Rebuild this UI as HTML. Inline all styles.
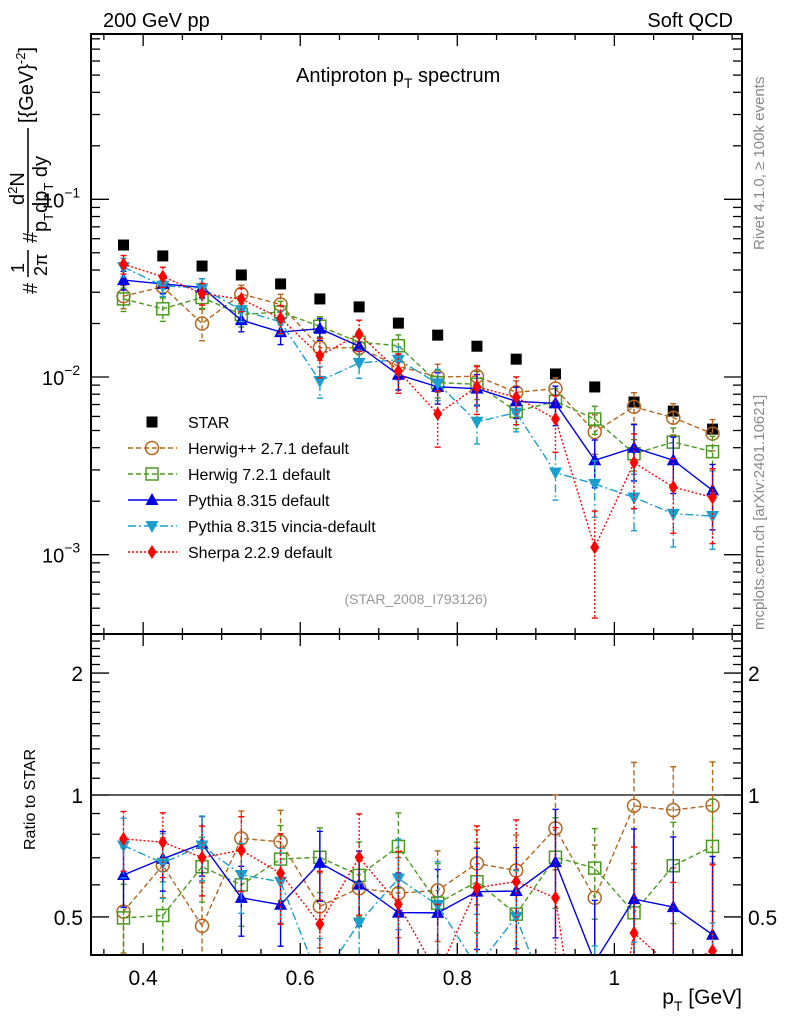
<!DOCTYPE html>
<html><head><meta charset="utf-8">
<style>
html,body{margin:0;padding:0;background:#fff;overflow:hidden;}
svg{display:block;font-family:"Liberation Sans",Arial,sans-serif;}
</style></head>
<body>
<svg id="chart" width="786" height="1024" viewBox="0 0 786 1024" xmlns="http://www.w3.org/2000/svg">
<defs>
<clipPath id="clipMain"><rect x="91" y="34" width="651" height="600"/></clipPath>
<clipPath id="clipRatio"><rect x="91" y="634" width="651" height="321"/></clipPath>
</defs>
<g id="axes"></g>
<g id="series"></g>
<rect x="91" y="34" width="651" height="600" fill="none" stroke="#000" stroke-width="2"/>
<rect x="91" y="634" width="651" height="321" fill="none" stroke="#000" stroke-width="2"/>
<text x="103" y="27" font-size="20">200 GeV pp</text>
<text x="733" y="27" font-size="20" text-anchor="end">Soft QCD</text>
<text x="296" y="82" font-size="20">Antiproton p<tspan font-size="14" dy="6">T</tspan><tspan dy="-6"> spectrum</tspan></text>
<text x="416" y="604" font-size="14" fill="#999" text-anchor="middle">(STAR_2008_I793126)</text>
<text transform="translate(764,250) rotate(-90)" font-size="15" fill="#888">Rivet 4.1.0, ≥ 100k events</text>
<text transform="translate(764,630) rotate(-90)" font-size="15" fill="#888">mcplots.cern.ch [arXiv:2401.10621]</text>
<g font-size="20">
  <text transform="translate(37,294) rotate(-90)">#</text>
  <text transform="translate(24,273) rotate(-90)" font-size="18">1</text>
  <line x1="28" y1="250" x2="28" y2="277" stroke="#000" stroke-width="1.5"/>
  <text transform="translate(47,276) rotate(-90)" font-size="18">2π</text>
  <text transform="translate(37,243) rotate(-90)">#</text>
  <text transform="translate(24,205) rotate(-90)">d<tspan font-size="13" dy="-7">2</tspan><tspan dy="7">N</tspan></text>
  <line x1="28" y1="128" x2="28" y2="233" stroke="#000" stroke-width="1.5"/>
  <text transform="translate(47,232) rotate(-90)">p<tspan font-size="13" dy="6">T</tspan><tspan dy="-6">dp</tspan><tspan font-size="13" dy="6">T</tspan><tspan dy="-6"> dy</tspan></text>
  <text transform="translate(33,123) rotate(-90)">[{GeV}<tspan font-size="13" dy="-8">-2</tspan><tspan dy="8">]</tspan></text>
</g>
<text transform="translate(35,850) rotate(-90)" font-size="16">Ratio to STAR</text>
<text x="742" y="1004" font-size="21" text-anchor="end">p<tspan font-size="14" dy="7">T</tspan><tspan dy="-7"> [GeV]</tspan></text>
<g id="legend"></g>
</svg>
<script>
// ---- data ----
const categories = [0.375,0.425,0.475,0.525,0.575,0.625,0.675,0.725,0.775,0.825,0.875,0.925,0.975,1.025,1.075,1.125];
const starValues = [0.0553,0.048,0.0421,0.0375,0.0334,0.0275,0.0248,0.0201,0.0172,0.0149,0.0126,0.0104,0.00879,0.00723,0.00643,0.00509];
const herwigppValues = [0.0285,0.0322,0.0200,0.0293,0.0256,0.0146,0.0146,0.0115,0.0100,0.0101,0.0082,0.0086,0.0049,0.0068,0.0059,0.0048];
const herwig7Values = [0.0275,0.0242,0.0280,0.0225,0.0232,0.0193,0.0157,0.0150,0.0093,0.0091,0.0064,0.0073,0.0058,0.0037,0.0043,0.0038];
const pythiaValues = [0.0351,0.0334,0.0319,0.0209,0.0179,0.0187,0.0149,0.0103,0.0088,0.0086,0.0073,0.0071,0.0034,0.0040,0.0034,0.0023];
const vinciaValues = [0.0415,0.0326,0.0316,0.0238,0.0204,0.0095,0.0120,0.0125,0.0092,0.0056,0.0063,0.0029,0.0025,0.0021,0.0017,0.00165];
const sherpaValues = [0.0431,0.0367,0.0295,0.0274,0.0214,0.0132,0.0174,0.0108,0.0062,0.0088,0.0077,0.0058,0.0011,0.0033,0.0024,0.0021];
const herwigppErr = [0.15,0.12,0.2,0.12,0.14,0.15,0.14,0.16,0.18,0.15,0.16,0.15,0.25,0.2,0.2,0.2];
const herwig7Err = [0.15,0.15,0.13,0.15,0.15,0.13,0.15,0.15,0.18,0.18,0.2,0.18,0.18,0.2,0.2,0.22];
const pythiaErr = [0.12,0.12,0.12,0.14,0.15,0.14,0.15,0.18,0.2,0.2,0.2,0.25,0.3,0.35,0.35,0.4];
const vinciaErr = [0.12,0.13,0.13,0.14,0.15,0.2,0.18,0.18,0.2,0.25,0.22,0.3,0.35,0.35,0.35,0.35];
const sherpaErr = [0.12,0.13,0.14,0.15,0.18,0.25,0.2,0.25,0.35,0.3,0.3,0.35,0.6,0.45,0.45,0.45];
const xTickLabels = ["0.4","0.6","0.8","1"];
const xTickValues = [0.4,0.6,0.8,1.0];
const yDecades = [-1,-2,-3];
const ratioTickValues = [0.5,1,2];
const ratioTickLabels = ["0.5","1","2"];

// ---- axes ----
const X0=91, X1=742, XMIN=0.3336, XMAX=1.1625;
const x = v => X0 + (v-XMIN)/(XMAX-XMIN)*(X1-X0);
const y = v => 199.3 - (Math.log10(v)+1)*177.7;
const yr = r => 795 - 405*Math.log10(r);
const NS="http://www.w3.org/2000/svg";
function mk(tag, attrs, parent){const e=document.createElementNS(NS,tag);for(const k in attrs)e.setAttribute(k,attrs[k]);parent.appendChild(e);return e;}
const axes=document.getElementById('axes');
const seriesG=document.getElementById('series');
const legendG=document.getElementById('legend');

for(let i=0;i<=16;i++){
  const v=0.35+i*0.05; if(v>XMAX) break;
  const xx=x(v); const k=Math.round(v*100);
  const major=(k%20===0);
  const L=major?12:6;
  for(const [yb,dir] of [[34,1],[634,-1],[634,1],[955,-1]]){
    const t=mk('line',{x1:xx,y1:yb,x2:xx,y2:yb+dir*L,stroke:'#000','stroke-width':1.3},axes);
    
    
  }
}
xTickValues.forEach((v,i)=>{
  const t=mk('text',{x:x(v),y:985,'font-size':21,'text-anchor':'middle'},axes);
  t.textContent=xTickLabels[i];
  
  
});
for(let d=-4; d<=0; d++){
  for(let m=1;m<=9;m++){
    const v=m*Math.pow(10,d); const yy=y(v);
    if(yy<34||yy>634) continue;
    const L=m===1?18:9;
    const t1=mk('line',{x1:X0,y1:yy,x2:X0+L,y2:yy,stroke:'#000','stroke-width':1.3},axes);
    
    
    const t2=mk('line',{x1:X1,y1:yy,x2:X1-L,y2:yy,stroke:'#000','stroke-width':1.3},axes);
    
    
  }
}
yDecades.forEach(d=>{
  const t=mk('text',{x:42,y:y(Math.pow(10,d))+8,'font-size':20},axes);
  t.innerHTML='10<tspan font-size="14" dy="-10">−'+(-d)+'</tspan>';
  
  
});
for(let r=0.4;r<=2.51;r+=0.1){
  const rr=Math.round(r*10)/10; const yy=yr(rr);
  if(yy<634||yy>955) continue;
  const major=(rr===0.5||rr===1||rr===2);
  const L=major?18:9;
  const t1=mk('line',{x1:X0,y1:yy,x2:X0+L,y2:yy,stroke:'#000','stroke-width':1.3},axes);
  
  
  const t2=mk('line',{x1:X1,y1:yy,x2:X1-L,y2:yy,stroke:'#000','stroke-width':1.3},axes);
  
  
}
ratioTickValues.forEach((v,i)=>{
  const a=mk('text',{x:83,y:yr(v)+8,'font-size':21,'text-anchor':'end'},axes);
  a.textContent=ratioTickLabels[i];
  
  
  const b=mk('text',{x:748,y:yr(v)+8,'font-size':21},axes);
  b.textContent=ratioTickLabels[i];
  
  
});
const one=mk('line',{x1:X0,y1:yr(1),x2:X1,y2:yr(1),stroke:'#000','stroke-width':1.3},axes);



function marker(type,cx,cy,color,parent){
  let e;
  if(type==='sq') e=mk('rect',{x:cx-5.5,y:cy-5.5,width:11,height:11,fill:'#000'},parent);
  else if(type==='circ') e=mk('circle',{cx:cx,cy:cy,r:6.5,fill:'none',stroke:color,'stroke-width':1.5},parent);
  else if(type==='osq') e=mk('rect',{x:cx-6,y:cy-6,width:12,height:12,fill:'none',stroke:color,'stroke-width':1.5},parent);
  else if(type==='tri') e=mk('polygon',{points:`${cx},${cy-7} ${cx-6.5},${cy+5} ${cx+6.5},${cy+5}`,fill:color},parent);
  else if(type==='itri') e=mk('polygon',{points:`${cx},${cy+7} ${cx-6.5},${cy-5} ${cx+6.5},${cy-5}`,fill:color},parent);
  else if(type==='dia') e=mk('polygon',{points:`${cx},${cy-7} ${cx-4.5},${cy} ${cx},${cy+7} ${cx+4.5},${cy}`,fill:color},parent);
  return e;
}
const series=[
  {name:'herwigpp',label:'Herwig++ 2.7.1 default',vals:herwigppValues,err:herwigppErr,color:'#b5651d',dash:'5,3',m:'circ'},
  {name:'herwig7',label:'Herwig 7.2.1 default',vals:herwig7Values,err:herwig7Err,color:'#4a9a20',dash:'5,3',m:'osq'},
  {name:'pythia',label:'Pythia 8.315 default',vals:pythiaValues,err:pythiaErr,color:'#0000e6',dash:'',m:'tri'},
  {name:'vincia',label:'Pythia 8.315 vincia-default',vals:vinciaValues,err:vinciaErr,color:'#1a9fcc',dash:'8,3,2,3',m:'itri'},
  {name:'sherpa',label:'Sherpa 2.2.9 default',vals:sherpaValues,err:sherpaErr,color:'#ff0000',dash:'2,2',m:'dia'}
];
const starG=mk('g',{'clip-path':'url(#clipMain)'},seriesG);


categories.forEach((c,i)=>{
  const p=marker('sq',x(c),y(starValues[i]),'#000',starG);
  
  
});
series.forEach(s=>{
  [['main',y,'clipMain',1],['ratio',yr,'clipRatio',0]].forEach(([panel,fy,clip,isMain])=>{
    const g=mk('g',{'clip-path':`url(#${clip})`},seriesG);
    
    
    const vals=categories.map((c,i)=>isMain?s.vals[i]:s.vals[i]/starValues[i]);
    const pts=categories.map((c,i)=>x(c)+','+fy(vals[i])).join(' ');
    const pl=mk('polyline',{points:pts,fill:'none',stroke:s.color,'stroke-width':1.4,'stroke-dasharray':s.dash},g);
    
    
    categories.forEach((c,i)=>{
      const v=vals[i], e=v*s.err[i]*(isMain?1:1.4);
      const xx=x(c);
      const lo=Math.max(v-e,v*0.05);
      const eb=mk('line',{x1:xx,y1:fy(v+e),x2:xx,y2:fy(lo),stroke:s.color,'stroke-width':1.4,'stroke-dasharray':s.dash},g);
      
      
      [v+e,lo].forEach(ev=>{
        const cap=mk('line',{x1:xx-3,y1:fy(ev),x2:xx+3,y2:fy(ev),stroke:s.color,'stroke-width':1.4},g);
        
        
      });
      const mm=marker(s.m,xx,fy(v),s.color,g);
      
      
    });
  });
});
const lg0=mk('g',{},legendG);


marker('sq',152,422,'#000',lg0);
const t0=mk('text',{x:188,y:428,'font-size':16},lg0); t0.textContent='STAR';
series.forEach((s,i)=>{
  const yy=448+i*26;
  const g=mk('g',{},legendG);
  
  
  mk('line',{x1:128,y1:yy,x2:177,y2:yy,stroke:s.color,'stroke-width':1.4,'stroke-dasharray':s.dash},g);
  marker(s.m,152,yy,s.color,g);
  const t=mk('text',{x:188,y:yy+6,'font-size':16},g); t.textContent=s.label;
});
</script>
</body></html>
